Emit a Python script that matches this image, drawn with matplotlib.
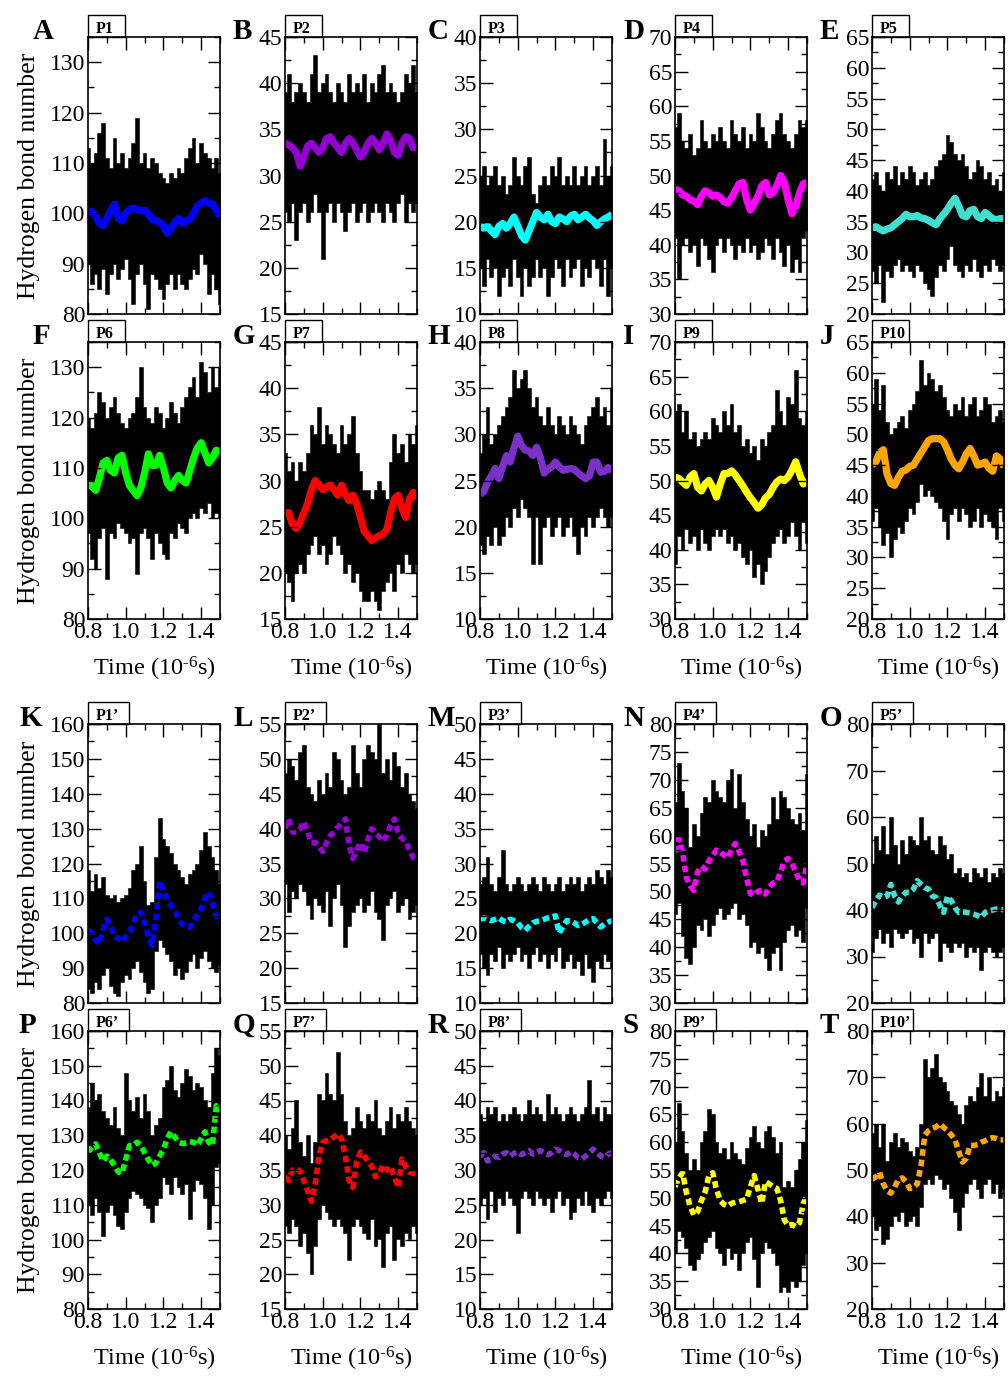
import matplotlib.pyplot as plt
from matplotlib.patches import Rectangle
from matplotlib.ticker import MultipleLocator, FormatStrFormatter

plt.rcParams['font.family'] = ['Liberation Serif', 'DejaVu Serif']
plt.rcParams['mathtext.fontset'] = 'custom'
plt.rcParams['mathtext.rm'] = 'Liberation Serif'
plt.rcParams['mathtext.it'] = 'Liberation Serif:italic'
plt.rcParams['axes.axisbelow'] = False

# time grid (10^-6 s)
TIME = [0.80, 0.82, 0.84, 0.86, 0.88, 0.90, 0.92, 0.94, 0.96, 0.98,
        1.00, 1.02, 1.04, 1.06, 1.08, 1.10, 1.12, 1.14, 1.16, 1.18,
        1.20, 1.22, 1.24, 1.26, 1.28, 1.30, 1.32, 1.34, 1.36, 1.38,
        1.40, 1.42, 1.44, 1.46, 1.48, 1.50]

# running average (mean) and raw min / max envelope of the H-bond count
p1_mean = [100.5, 100.3, 99.5, 98, 97.5, 99, 100.5, 101.8, 99, 98.5, 100, 100.8, 101, 100.8, 100.5, 100.6, 99.8, 98.8, 98.5, 98.2, 97.5, 96, 97, 98.2, 99, 98, 98.5, 98.8, 100, 101.5, 102, 102.5, 102, 101.8, 100.5, 99.5]
p1_hi = [113, 110, 112, 116, 118, 111, 109, 115, 110, 112, 109, 111, 114, 119, 110, 112, 109, 111, 110, 108, 107, 106, 108, 107, 109, 108, 111, 113, 115, 110, 114, 112, 111, 109, 111, 108]
p1_lo = [90, 86, 88, 85, 89, 84, 88, 90, 87, 89, 91, 87, 82, 88, 90, 86, 81, 88, 87, 85, 83, 86, 88, 85, 88, 86, 85, 87, 89, 88, 92, 90, 84, 88, 85, 82]

p2_mean = [33.5, 33.3, 33, 32.5, 31, 32, 33.2, 33.5, 33, 32.5, 33, 34, 34.2, 33.5, 33, 32.5, 33.5, 34, 33.5, 32.8, 32, 32.5, 33.5, 34, 33.5, 32.8, 33.5, 34.5, 33.8, 32.5, 32.2, 33.5, 34.2, 34, 33, 33]
p2_hi = [39, 41, 38, 39, 40, 39, 38, 41, 43, 39, 40, 41, 39, 38, 40, 39, 38, 41, 39, 40, 39, 41, 38, 40, 39, 41, 42, 39, 40, 39, 38, 39, 41, 40, 42, 39]
p2_lo = [26, 25, 27, 23, 26, 27, 25, 26, 28, 26, 21, 26, 27, 25, 27, 26, 24, 26, 27, 25, 26, 27, 25, 26, 27, 26, 25, 27, 26, 25, 27, 28, 25, 27, 26, 27]

p3_mean = [19.5, 19.3, 19.5, 19, 18.6, 19.5, 19.8, 19.3, 19.8, 20.5, 19.5, 18.5, 18, 19, 20, 21, 20.5, 20.2, 20.8, 20, 19.8, 20.5, 20.3, 20, 20.6, 20.8, 20.2, 20.5, 20.8, 20.4, 20.1, 19.6, 20, 20.3, 20.5, 20.8]
p3_hi = [25, 26, 24, 25, 26, 24, 25, 23, 24, 27, 25, 24, 26, 27, 23, 22, 24, 25, 24, 26, 25, 27, 24, 25, 24, 26, 24, 25, 26, 24, 25, 26, 24, 29, 25, 26]
p3_lo = [15, 13, 16, 14, 15, 12, 14, 15, 13, 16, 14, 12, 15, 13, 14, 16, 14, 15, 12, 14, 16, 15, 13, 16, 14, 15, 16, 13, 15, 14, 16, 15, 13, 16, 12, 15]

p4_mean = [48, 47.8, 47.2, 47, 46.5, 46.3, 45.8, 47, 47.8, 47.5, 47, 47.2, 46.8, 46.2, 46, 46.8, 47.8, 48.8, 49, 46.5, 45, 46, 47, 48.5, 49, 47.2, 47.5, 48.5, 50, 49, 46.5, 44.5, 45.5, 47.5, 48.8, 49]
p4_hi = [57, 59, 55, 54, 56, 53, 54, 58, 55, 54, 56, 55, 57, 55, 54, 58, 56, 55, 57, 54, 56, 55, 59, 57, 55, 54, 56, 58, 59, 56, 55, 54, 56, 58, 57, 58]
p4_lo = [41, 35, 40, 41, 39, 40, 37, 41, 40, 38, 36, 40, 41, 39, 41, 40, 38, 40, 39, 41, 39, 40, 38, 39, 41, 40, 38, 41, 39, 37, 40, 36, 38, 36, 41, 42]

p5_mean = [34, 34.2, 33.8, 33.5, 33.8, 34, 34.5, 35, 35.5, 36.2, 35.8, 35.8, 36, 35.6, 35.5, 35.2, 34.8, 34.5, 35.5, 36.2, 37, 38, 38.8, 37.5, 36, 35.8, 36.8, 37, 35.8, 35.5, 36.5, 36, 35.5, 35.3, 35.5, 35.5]
p5_hi = [42, 43, 41, 40, 43, 42, 44, 41, 43, 42, 44, 43, 41, 42, 43, 41, 42, 44, 45, 46, 49, 48, 46, 45, 46, 44, 42, 43, 45, 44, 42, 43, 41, 42, 40, 43]
p5_lo = [27, 25, 28, 22, 27, 26, 28, 29, 27, 28, 27, 26, 28, 27, 25, 24, 23, 26, 28, 27, 29, 31, 28, 27, 26, 28, 27, 29, 27, 26, 28, 27, 29, 28, 27, 28]

p6_mean = [106.5, 106.5, 105.5, 108, 111, 111.5, 109.5, 109, 112, 112.5, 109, 106.5, 105.5, 104.5, 106, 109, 112.8, 110.5, 110.5, 112.5, 110, 107, 106, 107.5, 108.5, 107.5, 107, 109.5, 112, 114, 115, 113, 111, 112, 113.5, 113]
p6_hi = [120, 118, 121, 125, 123, 120, 122, 124, 121, 119, 118, 120, 121, 124, 130, 122, 120, 119, 122, 121, 118, 120, 123, 121, 119, 122, 124, 126, 128, 124, 131, 129, 125, 130, 126, 130]
p6_lo = [97, 92, 90, 96, 98, 88, 97, 96, 99, 98, 97, 95, 96, 89, 97, 98, 96, 92, 97, 95, 93, 92, 97, 96, 99, 98, 97, 100, 101, 100, 102, 101, 103, 100, 101, 100]

p7_mean = [26.5, 26.5, 25.2, 24.8, 25.5, 26.5, 27.5, 29, 30, 29.5, 29, 29.3, 29.5, 29, 28.4, 29.5, 28.5, 27.8, 28.4, 27.5, 26, 24.5, 24, 23.5, 23.8, 24, 24.2, 24.7, 26.5, 28, 28.4, 27, 26, 28, 28.7, 28]
p7_hi = [33, 31, 32, 30, 32, 31, 33, 36, 35, 38, 34, 36, 35, 34, 33, 36, 34, 35, 37, 33, 31, 29, 29, 28, 29, 30, 29, 28, 32, 35, 33, 34, 32, 35, 34, 36]
p7_lo = [20, 19, 17, 20, 21, 20, 22, 23, 24, 22, 23, 21, 22, 24, 23, 22, 20, 21, 19, 20, 18, 17, 17, 18, 17, 16, 18, 19, 20, 18, 21, 20, 22, 21, 20, 21]

p8_mean = [23.5, 23.8, 24.8, 25.5, 26.3, 25.2, 26.5, 27.7, 27, 28.5, 29.8, 28.8, 28.3, 28.2, 27.7, 28.6, 27.5, 25.8, 26.2, 26.5, 27, 26.5, 26.1, 26.2, 26.3, 26.2, 25.8, 25.5, 25.2, 25.5, 27, 27, 25.9, 26, 26.4, 26]
p8_hi = [28, 30, 33, 29, 30, 31, 32, 33, 34, 37, 35, 36, 37, 35, 33, 34, 32, 31, 33, 31, 30, 32, 31, 30, 32, 31, 30, 29, 31, 32, 33, 34, 32, 33, 31, 35]
p8_lo = [18, 17, 19, 18, 20, 18, 19, 21, 20, 22, 21, 23, 22, 21, 16, 21, 16, 20, 21, 19, 20, 21, 19, 20, 21, 19, 17, 20, 19, 21, 20, 21, 22, 21, 20, 21]

p9_mean = [50.5, 50.3, 49.8, 49.3, 50.5, 51, 49, 48.5, 49.5, 50, 49, 47.6, 49.5, 51, 51, 51.4, 50.8, 50, 49.2, 48.3, 47.5, 46.8, 46, 46.5, 47.5, 48, 49, 49.8, 50.2, 50, 50.5, 51.5, 52.7, 51, 49.5, 50]
p9_hi = [60, 61, 57, 60, 56, 57, 55, 56, 57, 56, 59, 58, 57, 60, 58, 61, 57, 58, 55, 56, 54, 55, 53, 56, 55, 57, 58, 63, 60, 58, 62, 61, 66, 59, 58, 60]
p9_lo = [38, 42, 40, 43, 41, 42, 40, 43, 41, 40, 42, 43, 42, 43, 41, 42, 40, 41, 39, 38, 40, 36, 38, 35, 37, 39, 41, 42, 43, 41, 42, 44, 42, 40, 44, 41]

p10_mean = [45, 45.5, 47, 47.5, 43.5, 42, 41.7, 43, 44, 44.2, 44.8, 45, 46, 47, 48, 49, 49.3, 49.3, 49.3, 48.8, 47.5, 46, 45, 44.4, 45.5, 46.8, 47.7, 46.5, 45, 45.2, 45.5, 44.5, 44, 46.5, 46, 44.7]
p10_hi = [55, 59, 54, 58, 52, 50, 51, 52, 53, 51, 54, 55, 57, 62, 58, 60, 59, 57, 58, 56, 54, 53, 55, 54, 56, 53, 55, 56, 53, 54, 56, 55, 52, 53, 54, 52]
p10_lo = [36, 38, 35, 32, 34, 30, 33, 35, 34, 36, 38, 37, 39, 42, 40, 41, 40, 39, 38, 36, 33, 37, 38, 36, 38, 37, 35, 36, 38, 35, 37, 36, 35, 33, 38, 36]

# primed systems P1'..P10'
q1_mean = [101, 100, 98, 97, 101, 104, 102, 99, 98.5, 97.5, 99, 100.3, 103, 105.5, 106, 103, 99, 96.5, 104, 115, 112, 109.5, 108, 106.5, 104, 102.5, 102, 101.7, 103.5, 105.5, 107, 110, 111.8, 108.5, 105, 103]
q1_hi = [118, 112, 117, 113, 116, 111, 110, 111, 109, 110, 111, 113, 118, 120, 125, 115, 108, 109, 122, 133, 127, 125, 123, 120, 118, 116, 114, 117, 118, 120, 124, 129, 125, 122, 118, 114]
q1_lo = [84, 83, 86, 84, 88, 90, 85, 83, 82, 86, 88, 87, 90, 92, 89, 86, 83, 84, 95, 98, 96, 94, 92, 88, 90, 87, 89, 92, 94, 90, 93, 95, 92, 90, 89, 91]

q2_mean = [40, 41.4, 39.5, 39.5, 40, 41, 39.5, 38, 38, 37.5, 36.7, 38, 39, 39.5, 40.2, 40.8, 41.4, 37.6, 35.7, 37, 38, 36.5, 38.5, 40, 39.3, 38.8, 38.2, 39, 40.5, 41.4, 39.3, 38.6, 38.2, 37, 35.8, 35.5]
q2_hi = [48, 50, 49, 47, 51, 52, 46, 45, 44, 47, 45, 48, 46, 51, 50, 47, 45, 46, 52, 48, 46, 50, 52, 51, 50, 55, 48, 50, 47, 51, 49, 46, 48, 45, 44, 43]
q2_lo = [32, 28, 31, 30, 32, 31, 29, 27, 30, 29, 28, 31, 26, 30, 32, 29, 23, 26, 28, 29, 30, 28, 29, 31, 28, 27, 24, 29, 30, 31, 28, 29, 30, 27, 28, 29]

q3_mean = [22, 22.2, 22, 21.8, 22, 22.2, 21.8, 21.6, 22, 21.8, 21.5, 20.8, 20.4, 21, 21.5, 21.7, 21.8, 22, 22.2, 22.3, 22.5, 20, 21, 21.8, 21.8, 21.5, 21.1, 21.3, 21.6, 22, 22.1, 21.5, 20.9, 21.3, 21.6, 21.8]
q3_hi = [27, 28, 31, 27, 26, 28, 32, 27, 26, 27, 28, 27, 26, 27, 28, 27, 26, 28, 27, 26, 27, 28, 26, 27, 28, 27, 28, 26, 27, 28, 27, 29, 28, 27, 29, 28]
q3_lo = [17, 15, 14, 17, 16, 18, 15, 17, 16, 17, 18, 16, 17, 15, 17, 18, 16, 17, 15, 17, 16, 18, 15, 16, 17, 15, 16, 14, 17, 15, 13, 16, 15, 17, 16, 15]

q4_mean = [57, 59.5, 57, 52.5, 51, 50.2, 53.5, 54.5, 54, 55.5, 56.5, 57.4, 57, 56.5, 56, 57.5, 58.6, 57.1, 55.5, 52.3, 49.6, 49.3, 50, 50.2, 49.5, 50.8, 51.5, 51.7, 53.5, 55.5, 55.9, 55, 53.5, 52, 51.5, 55]
q4_hi = [66, 73, 68, 65, 58, 62, 60, 64, 67, 66, 70, 68, 67, 66, 70, 72, 65, 71, 66, 63, 60, 62, 58, 61, 60, 62, 67, 63, 68, 67, 65, 63, 62, 64, 61, 71]
q4_lo = [46, 48, 42, 38, 37, 40, 44, 43, 45, 42, 44, 46, 47, 45, 46, 47, 48, 45, 46, 44, 40, 41, 39, 40, 38, 36, 39, 40, 36, 41, 43, 44, 42, 43, 41, 47]

q5_mean = [40.5, 42, 43.2, 42.7, 43, 45.5, 43, 41.7, 43, 43.8, 43.8, 44.5, 46.3, 45.5, 44.8, 44.5, 43, 42.7, 41, 39.5, 43, 42, 40.5, 39.5, 39.6, 39.5, 39.3, 39.1, 38.8, 38.4, 39.5, 39.8, 40, 40.2, 40.2, 40]
q5_hi = [50, 56, 53, 58, 52, 60, 54, 50, 55, 52, 56, 55, 54, 60, 55, 56, 53, 52, 56, 54, 51, 52, 48, 49, 47, 48, 46, 49, 48, 47, 49, 46, 48, 47, 49, 48]
q5_lo = [31, 34, 36, 33, 35, 32, 36, 35, 34, 35, 36, 33, 34, 30, 35, 33, 34, 35, 29, 33, 32, 31, 33, 32, 33, 30, 32, 31, 32, 27, 31, 32, 31, 30, 31, 32]

q6_mean = [125, 126.5, 127.5, 125, 122.5, 124, 123, 121.3, 119.5, 119, 123, 127, 127.1, 128, 127, 125, 123, 121.3, 122, 124, 126, 129, 131, 129.5, 128, 127.6, 127.8, 128.1, 128, 127.1, 129, 131, 128, 127, 138.5, 137]
q6_hi = [138, 145, 140, 142, 137, 135, 133, 138, 132, 130, 148, 140, 137, 141, 135, 142, 137, 130, 133, 135, 144, 146, 150, 143, 141, 145, 149, 147, 143, 145, 144, 140, 138, 148, 155, 153]
q6_lo = [110, 107, 112, 108, 101, 108, 110, 107, 104, 103, 108, 112, 114, 113, 112, 110, 109, 105, 110, 112, 118, 116, 113, 118, 115, 113, 116, 106, 114, 117, 116, 112, 103, 110, 121, 122]

q7_mean = [34, 33.5, 35, 35.2, 34.8, 33.5, 32, 30.5, 33, 37, 39, 39.2, 39.3, 39.8, 40.2, 39.5, 37, 33.5, 32.5, 36.2, 37.6, 37, 36.2, 35.5, 34, 34.5, 35.7, 35, 35.5, 34, 32.5, 36.6, 35.5, 34.7, 34.5, 34.5]
q7_hi = [40, 38, 41, 45, 39, 37, 40, 36, 39, 46, 45, 49, 46, 45, 52, 46, 42, 40, 41, 44, 42, 41, 43, 42, 45, 41, 40, 42, 44, 41, 43, 42, 44, 42, 41, 40]
q7_lo = [27, 26, 28, 27, 24, 26, 23, 20, 24, 28, 30, 29, 28, 27, 28, 27, 26, 22, 27, 28, 27, 26, 25, 28, 24, 25, 21, 26, 27, 22, 25, 24, 26, 25, 27, 26]

q8_mean = [32, 32.5, 31.3, 31.5, 32, 31.8, 32.3, 32.5, 32, 32.4, 32.6, 32.2, 32.5, 32.8, 32.3, 32.5, 32.8, 32.4, 32.2, 32.5, 33, 32.8, 32.4, 32.2, 32.6, 32.3, 31.8, 31.6, 32, 32.5, 33, 32.6, 32, 31.8, 32.3, 32.5]
q8_hi = [38, 37, 39, 38, 39, 37, 38, 37, 38, 39, 38, 37, 38, 40, 38, 39, 38, 37, 41, 38, 39, 38, 37, 38, 39, 38, 37, 38, 39, 43, 38, 39, 37, 39, 38, 38]
q8_lo = [25, 26, 23, 27, 24, 26, 25, 27, 26, 25, 21, 26, 27, 26, 25, 27, 26, 25, 26, 24, 26, 27, 25, 26, 23, 24, 26, 25, 27, 25, 24, 26, 25, 26, 27, 26]

q9_mean = [52, 53.5, 54.5, 51, 48.5, 46.9, 47.5, 49.5, 51.1, 54, 54.5, 51.5, 49.5, 48.8, 48.5, 49, 49.2, 49.3, 49.5, 49.8, 52, 54, 51.5, 49, 52.9, 52.5, 52, 51.7, 49.5, 46, 45, 45.2, 44.8, 45.5, 49, 50.5]
q9_hi = [60, 67, 62, 58, 55, 57, 55, 60, 62, 66, 65, 60, 58, 59, 57, 60, 58, 57, 56, 59, 61, 63, 60, 59, 62, 63, 61, 58, 60, 52, 53, 52, 55, 57, 60, 64]
q9_lo = [40, 44, 43, 41, 38, 37, 39, 40, 42, 43, 44, 41, 40, 38, 41, 39, 40, 37, 40, 42, 43, 39, 34, 40, 42, 41, 40, 38, 33, 34, 33, 35, 34, 35, 38, 40]

q10_mean = [48, 48.5, 49.5, 47, 45.5, 45, 46.3, 48, 48.3, 47.5, 46, 46.3, 47, 51, 57.5, 58.5, 59, 59.3, 60, 59.2, 58.5, 57.6, 56.5, 54, 51.7, 52.5, 55.3, 55.3, 55.5, 56, 56.3, 56.8, 57, 56.8, 56.5, 56.5]
q10_hi = [58, 60, 55, 60, 52, 56, 58, 55, 57, 56, 54, 53, 55, 60, 74, 70, 72, 75, 70, 69, 67, 65, 64, 62, 60, 64, 66, 65, 68, 71, 66, 70, 65, 67, 66, 68]
q10_lo = [40, 37, 38, 34, 35, 38, 40, 39, 41, 38, 39, 40, 38, 42, 47, 48, 47, 49, 48, 46, 47, 44, 41, 37, 42, 45, 47, 48, 46, 44, 47, 48, 45, 47, 44, 46]

letters = list("ABCDEFGHIJKLMNOPQRST")
tags = ["P1", "P2", "P3", "P4", "P5", "P6", "P7", "P8", "P9", "P10",
        "P1\u2019", "P2\u2019", "P3\u2019", "P4\u2019", "P5\u2019",
        "P6\u2019", "P7\u2019", "P8\u2019", "P9\u2019", "P10\u2019"]
means = [p1_mean, p2_mean, p3_mean, p4_mean, p5_mean, p6_mean, p7_mean, p8_mean, p9_mean, p10_mean,
         q1_mean, q2_mean, q3_mean, q4_mean, q5_mean, q6_mean, q7_mean, q8_mean, q9_mean, q10_mean]
highs = [p1_hi, p2_hi, p3_hi, p4_hi, p5_hi, p6_hi, p7_hi, p8_hi, p9_hi, p10_hi,
         q1_hi, q2_hi, q3_hi, q4_hi, q5_hi, q6_hi, q7_hi, q8_hi, q9_hi, q10_hi]
lows = [p1_lo, p2_lo, p3_lo, p4_lo, p5_lo, p6_lo, p7_lo, p8_lo, p9_lo, p10_lo,
        q1_lo, q2_lo, q3_lo, q4_lo, q5_lo, q6_lo, q7_lo, q8_lo, q9_lo, q10_lo]

# one colour per system, shared by P_n and P_n'
colors = ['#0000ff', '#9400d3', '#00ffff', '#ff00ff', '#40e0d0',
          '#00ff00', '#ff0000', '#7b30c8', '#ffff00', '#ffa500']

# y range (min, max, major step, minor step) for each column
ylims_top = [(80, 135, 10, 5), (15, 45, 5, 2.5), (10, 40, 5, 2.5), (30, 70, 5, 2.5), (20, 65, 5, 2.5)]
ylims_bot = [(80, 160, 10, 5), (15, 55, 5, 2.5), (10, 50, 5, 2.5), (30, 80, 5, 2.5), (20, 80, 10, 5)]

W, H = 1008, 1376
col_left = [88, 285, 480, 675, 872]
row_top = [37, 342, 724, 1031]
row_h = [277, 277, 279, 278]
ax_w = 132

fig = plt.figure(figsize=(W / 100, H / 100), dpi=100)

for k in range(20):
    r, c = divmod(k, 5)
    ax = fig.add_axes([col_left[c] / W, 1 - (row_top[r] + row_h[r]) / H, ax_w / W, row_h[r] / H])

    ax.fill_between(TIME, lows[k], highs[k], step='mid', color='black', lw=0.4)
    if r < 2:
        ax.plot(TIME, means[k], color=colors[k % 10], lw=5.2, solid_capstyle='butt')
    else:
        ax.plot(TIME, means[k], color=colors[k % 10], lw=4.0, ls=(0, (1.2, 0.7)))

    ymin, ymax, major, minor = ylims_top[c] if r < 2 else ylims_bot[c]
    ax.set_xlim(0.8, 1.5)
    ax.set_ylim(ymin, ymax)
    ax.xaxis.set_major_locator(MultipleLocator(0.2))
    ax.xaxis.set_minor_locator(MultipleLocator(0.1))
    ax.xaxis.set_major_formatter(FormatStrFormatter('%.1f'))
    ax.yaxis.set_major_locator(MultipleLocator(major))
    ax.yaxis.set_minor_locator(MultipleLocator(minor))
    ax.yaxis.set_major_formatter(FormatStrFormatter('%d'))
    ax.tick_params(which='both', direction='in', top=True, right=True,
                   labelsize=17, pad=2, width=1.0)
    ax.tick_params(which='major', length=9)
    ax.tick_params(which='minor', length=4.5)
    for sp in ax.spines.values():
        sp.set_linewidth(1.2)

    if r % 2 == 0:
        ax.tick_params(labelbottom=False)
    else:
        ax.set_xlabel('Time (10$^{\\text{-6}}$s)', fontsize=17.5, labelpad=9)

    if c == 0:
        ax.set_ylabel('Hydrogen bond number', fontsize=18.5, labelpad=7)

    # system tag in a small box sitting on the top spine
    box_w = 37 if k < 10 else 41
    ax.add_patch(Rectangle((0, 1), box_w / ax_w, 22 / row_h[r], transform=ax.transAxes,
                           fc='white', ec='black', lw=1.0, clip_on=False))
    ax.text(8 / ax_w, 1 + 4 / row_h[r], tags[k], transform=ax.transAxes,
            fontsize=11.5, fontweight='bold', va='baseline', ha='left')

    # panel letter
    off = -52
    if c == 0:
        off = -55 if r < 2 else -69
    fig.text((col_left[c] + off) / W, 1 - (row_top[r] + 2) / H, letters[k],
             fontsize=21, fontweight='bold', ha='left', va='baseline')

fig.savefig('out.png', dpi=100)
